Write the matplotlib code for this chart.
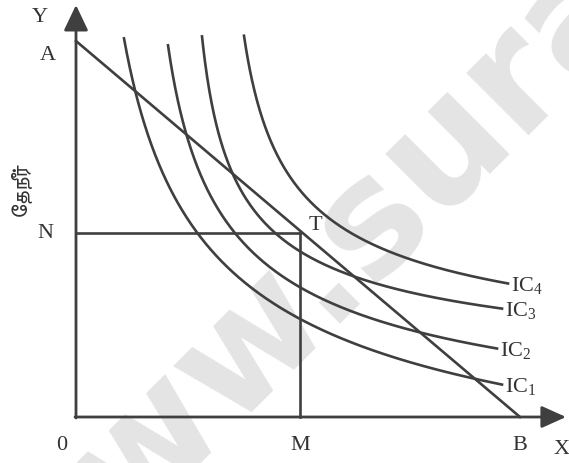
import numpy as np
import matplotlib
matplotlib.use("Agg")
import matplotlib.pyplot as plt

# values (units ~ pixels from origin 0)
budget_x = [0, 444]          # A on y axis, B on x axis
budget_y = [376, 0]
tangent_x = 224              # M
tangent_y = 184              # N

curve_names = ["IC1", "IC2", "IC3", "IC4"]
ic1_x = [48, 56, 84, 124, 136, 174, 224, 304, 399, 426]
ic1_y = [385, 329, 252, 184, 167, 132, 97, 60, 38, 34]
ic2_x = [92, 99, 107, 167, 182, 224, 304, 347, 421]
ic2_y = [385, 317, 284, 184, 167, 135, 94, 80, 63]
ic3_x = [126, 134, 151, 222, 304, 426]
ic3_y = [385, 317, 250, 184, 135, 97]
ic4_x = [168, 176, 201, 234, 304, 432]
ic4_y = [392, 317, 267, 224, 172, 127]

curves_x = [ic1_x, ic2_x, ic3_x, ic4_x]
curves_y = [ic1_y, ic2_y, ic3_y, ic4_y]
ic_labels = [r"IC$_1$", r"IC$_2$", r"IC$_3$", r"IC$_4$"]

ink = "#3f3f3f"
tamil = "\u0BC7\u0BA4\u0BA8\u0BC0\u0BB0\u0BCD"  # தேநீர் in visual order


def fit_curve(xs, ys):
    # fit y = c + k / (x - a)**p
    xs = np.asarray(xs, float)
    ys = np.asarray(ys, float)
    best = None
    for p in np.arange(0.5, 3.01, 0.1):
        for a in np.arange(-300, xs.min() - 2, 1.0):
            u = 1.0 / (xs - a) ** p
            A = np.column_stack([np.ones_like(u), u])
            coef = np.linalg.lstsq(A, ys, rcond=None)[0]
            err = np.sum((A @ coef - ys) ** 2)
            if best is None or err < best[0]:
                best = (err, a, p, coef)
    _, a, p, coef = best
    return lambda x: coef[0] + coef[1] / (x - a) ** p


plt.rcParams["font.family"] = ["Liberation Serif"]
plt.rcParams["mathtext.fontset"] = "custom"
plt.rcParams["mathtext.rm"] = "Liberation Serif"
plt.rcParams["mathtext.it"] = "Liberation Serif"

fig = plt.figure(figsize=(5.69, 4.63), dpi=100)
ax = fig.add_axes([0, 0, 1, 1])
ax.set_xlim(-76, 493)
ax.set_ylim(-46, 417)
ax.axis("off")

# watermark
ax.text(-54, -220, "www.sura", rotation=45, rotation_mode="anchor", fontsize=115,
        color="#e4e4e4", fontweight="bold", family="DejaVu Sans",
        ha="left", va="baseline", zorder=0)

# axes with arrows
ax.annotate("", xy=(0, 412), xytext=(0, -1),
            arrowprops=dict(arrowstyle="-|>,head_length=1.05,head_width=0.5",
                            mutation_scale=15, color=ink, lw=2, shrinkA=0, shrinkB=0))
ax.annotate("", xy=(490, 0), xytext=(-1, 0),
            arrowprops=dict(arrowstyle="-|>,head_length=1.0,head_width=0.45",
                            mutation_scale=15, color=ink, lw=2, shrinkA=0, shrinkB=0))

ax.plot(budget_x, budget_y, color=ink, lw=1.9)
ax.plot([0, tangent_x], [tangent_y, tangent_y], color=ink, lw=1.9)
ax.plot([tangent_x, tangent_x], [0, tangent_y], color=ink, lw=1.9)

for xs, ys, lab in zip(curves_x, curves_y, ic_labels):
    f = fit_curve(xs, ys)
    xx = np.linspace(xs[0], xs[-1], 400)
    ax.plot(xx, f(xx), color=ink, lw=1.9)
    ax.text(xs[-1] + 3, f(xs[-1]) - 2, lab, fontsize=16, color="#333333",
            ha="left", va="center")

fs = 16
tc = "#333333"
ax.text(-36, 399, "Y", fontsize=fs, color=tc, ha="center", va="center")
ax.text(-28, 362, "A", fontsize=fs, color=tc, ha="center", va="center")
ax.text(-31, 184, "N", fontsize=fs, color=tc, ha="center", va="center")
ax.text(-14, -28, "0", fontsize=fs, color=tc, ha="center", va="center")
ax.text(tangent_x, -28, "M", fontsize=fs, color=tc, ha="center", va="center")
ax.text(budget_x[1], -28, "B", fontsize=fs, color=tc, ha="center", va="center")
ax.text(486, -33, "X", fontsize=fs, color=tc, ha="center", va="center")
ax.text(tangent_x + 15, 192, "T", fontsize=fs, color=tc, ha="center", va="center")
ax.text(-56, 228, tamil, fontsize=16, color=tc, rotation=90,
        family=["FreeSans", "DejaVu Sans"], ha="center", va="center")

fig.savefig("out.png", dpi=100)
